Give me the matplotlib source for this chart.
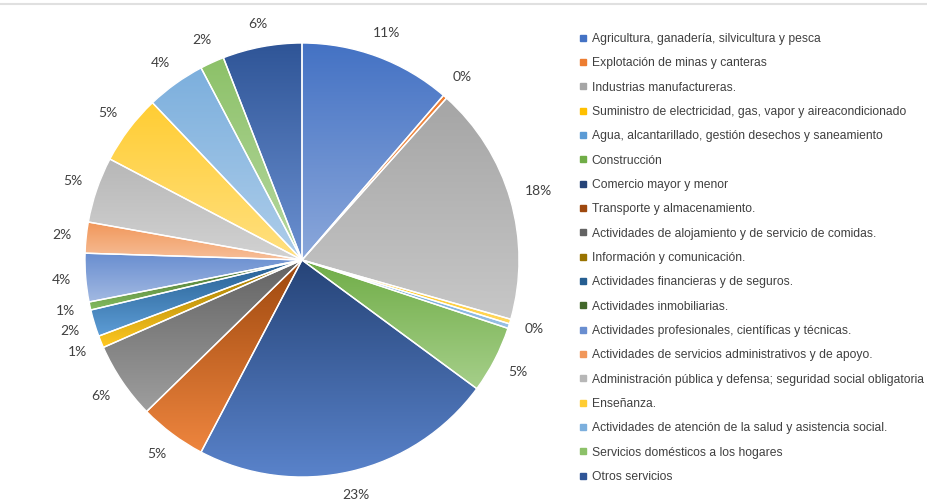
import colorsys
import numpy as np
import matplotlib
matplotlib.use("Agg")
import matplotlib.pyplot as plt
from matplotlib.colors import to_rgb
from matplotlib.lines import Line2D

categories = [
    "Agricultura, ganadería, silvicultura y pesca",
    "Explotación de minas y canteras",
    "Industrias manufactureras.",
    "Suministro de electricidad, gas, vapor y aireacondicionado",
    "Agua, alcantarillado, gestión desechos y saneamiento",
    "Construcción",
    "Comercio mayor y menor",
    "Transporte y almacenamiento.",
    "Actividades de alojamiento y de servicio de comidas.",
    "Información y comunicación.",
    "Actividades financieras y de seguros.",
    "Actividades inmobiliarias.",
    "Actividades profesionales, científicas y técnicas.",
    "Actividades de servicios administrativos y de apoyo.",
    "Administración pública y defensa; seguridad social obligatoria",
    "Enseñanza.",
    "Actividades de atención de la salud y asistencia social.",
    "Servicios domésticos a los hogares",
    "Otros servicios",
]
shares = [11.3, 0.3, 17.8, 0.35, 0.35, 5.0, 22.6, 5.0, 5.7, 0.9,
          2.0, 0.6, 3.6, 2.3, 4.9, 5.2, 4.4, 1.8, 5.9]
show_label = [True, True, True, True, False, True, True, True, True, True,
              True, True, True, True, True, True, True, True, True]

colors = ["#4472C4", "#ED7D31", "#A5A5A5", "#FFC000", "#5B9BD5", "#70AD47",
          "#264478", "#9E480E", "#636363", "#997300", "#255E91", "#43682B",
          "#698ED0", "#F1975A", "#B7B7B7", "#FFCD33", "#7CAFDD", "#8CC168",
          "#2F5597"]


def lighten(c, k=0.38):
    r, g, b = to_rgb(c)
    h, l, s = colorsys.rgb_to_hls(r, g, b)
    l2 = l + k * (1 - l)
    return np.array(colorsys.hls_to_rgb(h, l2, s))


W, H = 928, 500
fig = plt.figure(figsize=(W / 100, H / 100), dpi=100)
fig.patch.set_facecolor("white")

cx, cy, R = 302, 260, 217
ax = fig.add_axes([(cx - R) / W, (H - cy - R) / H, 2 * R / W, 2 * R / H])

wedges, _ = ax.pie(shares, startangle=90, counterclock=False, radius=1,
                   colors=colors,
                   wedgeprops=dict(edgecolor="white", linewidth=1.0))
ax.set_aspect("auto")
ax.axis("off")

n = 256
for w, c in zip(wedges, colors):
    bb = w.get_path().get_extents()
    top = np.array(to_rgb(c))
    bot = lighten(c)
    t = np.linspace(0, 1, n)[:, None]
    grad = top[None, :] * (1 - t) + bot[None, :] * t
    img = np.repeat(grad[:, None, :], 2, axis=1)
    im = ax.imshow(img, extent=[bb.x0, bb.x1, bb.y0, bb.y1], origin="upper",
                   aspect="auto", zorder=1, interpolation="bilinear")
    im.set_clip_path(w)
    w.set_facecolor("none")
    w.set_zorder(2)
ax.set_xlim(-1, 1)
ax.set_ylim(-1, 1)

total = sum(shares)
for w, v, show in zip(wedges, shares, show_label):
    if not show:
        continue
    txt = f"{100 * v / total:.0f}%"
    ang = np.deg2rad((w.theta1 + w.theta2) / 2)
    ux, uy = np.cos(ang), np.sin(ang)
    half_w = (7 * len(txt) + 6) / 2
    half_h = 7
    d = (R + 14 + abs(ux) * half_w + abs(uy) * half_h) / R
    ax.text(d * ux, d * uy, txt, ha="center", va="center",
            fontsize=10, family="Lato", color="#404040", clip_on=False)

handles = [Line2D([0], [0], marker="s", linestyle="none", markersize=4.5,
                  markerfacecolor=c, markeredgecolor=c) for c in colors]
leg = fig.legend(handles, categories, loc="upper left",
                 bbox_to_anchor=(579 / W, 1 - 33 / H), frameon=False,
                 prop=dict(family="Liberation Sans", size=8.7),
                 labelcolor="#404040", handlelength=0.6, handletextpad=0.45,
                 labelspacing=1.02, borderpad=0, borderaxespad=0)

fig.add_artist(Line2D([0, 1], [1 - 4 / H, 1 - 4 / H], transform=fig.transFigure,
                      color="#e0e0e0", linewidth=1.5))

fig.savefig("out.png", dpi=100)
